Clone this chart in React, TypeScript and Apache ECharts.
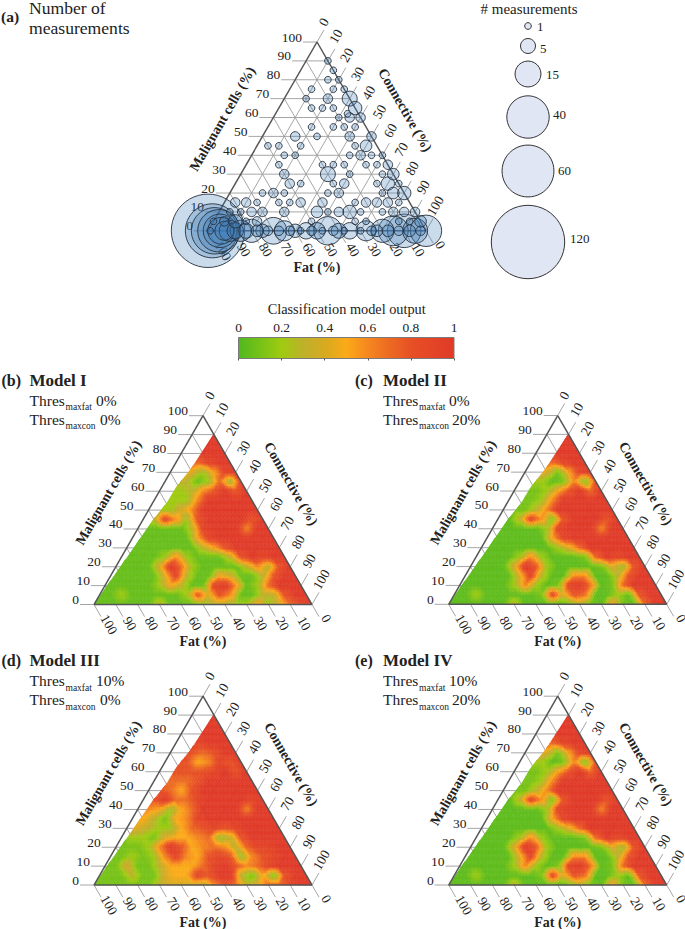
import React, { useEffect, useRef } from "react";
import * as echarts from "echarts";

const axisTicks = [0, 10, 20, 30, 40, 50, 60, 70, 80, 90, 100];
const colorTicks = [0, 0.2, 0.4, 0.6, 0.8, 1];
const colorStops: [number, string][] = [
  [0, "#4fb81f"], [0.2, "#9fcb10"], [0.3, "#bdb12a"], [0.4, "#d7aa20"], [0.5, "#fbaa18"],
  [0.6, "#f6871f"], [0.7, "#ec6a22"], [0.8, "#e75025"], [1, "#e03a28"],
];
const legendCounts = [1, 5, 15, 40, 60, 120];

// [malignant %, [[connective %, number of measurements], ...]]
const bubbleRows: [number, [number, number][]][] = [
  [90, [[10, 1]]],
  [85, [[15, 1]]],
  [80, [[15, 1], [20, 1]]],
  [75, [[10, 1], [20, 1], [25, 1]]],
  [70, [[10, 1], [20, 2], [30, 5]]],
  [65, [[15, 1], [20, 1], [25, 1], [35, 4]]],
  [62, [[33, 1]]],
  [60, [[30, 1], [35, 2], [40, 2]]],
  [55, [[20, 1], [30, 1], [35, 1], [40, 1]]],
  [50, [[15, 2], [25, 1], [40, 2], [50, 2]]],
  [45, [[5, 1], [10, 1], [20, 1], [45, 1], [50, 3]]],
  [40, [[15, 1], [20, 1], [45, 1], [50, 2], [55, 1], [60, 1]]],
  [35, [[15, 1], [35, 1], [40, 1], [45, 1], [55, 1], [60, 1], [65, 2]]],
  [30, [[20, 2], [40, 5], [50, 1], [65, 1], [70, 3]]],
  [25, [[25, 2], [30, 1], [45, 1], [50, 2], [65, 1], [70, 4], [75, 1]]],
  [20, [[15, 1], [20, 2], [25, 1], [45, 1], [50, 2], [70, 1], [75, 3], [80, 4]]],
  [15, [[5, 2], [10, 2], [15, 1], [25, 1], [30, 1], [35, 2], [45, 2], [60, 1], [65, 2], [70, 2], [75, 2], [80, 1]]],
  [10, [[5, 1], [10, 1], [15, 2], [20, 2], [30, 2], [45, 3], [50, 1], [55, 2], [60, 4], [65, 1], [75, 1], [80, 2], [85, 2], [90, 2]]],
  [5, [[0, 1], [5, 2], [10, 4], [15, 1], [20, 2], [45, 1], [65, 1], [70, 1], [85, 1], [90, 1], [95, 3]]],
  [0, [[0, 120], [1, 1], [2, 65], [3, 48], [5, 40], [5.5, 25], [6, 16], [7.5, 8], [10, 10], [12.5, 6], [15, 10], [17.5, 5], [20, 12], [22.5, 3], [25, 4], [27.5, 2], [30, 16], [32.5, 2], [35, 9], [37.5, 2], [40, 4], [42.5, 1], [45, 6], [47.5, 2], [50, 6], [52.5, 1], [55, 18], [57.5, 2], [60, 5], [62.5, 1], [65, 6], [70, 1], [72.5, 9], [75, 2], [77.5, 3], [80, 12], [82.5, 3], [85, 20], [87.5, 2], [90, 25], [92.5, 3], [95, 14], [97.5, 2], [100, 22]]],
];

// Classification output in tenths. Rows: malignant 0, 5, ... 90 %. Columns: connective 0, 5, ... %.
const modelI: number[][] = [
  [.6, .6, .6, .6, .6, .6, 3, .6, .6, .6, 2, 3, 3, 2, 2, 5, 2, 4, 7, 9, 10],
  [.6, .6, 2, .6, .6, .6, .6, .6, 2, 8, 4, 8, 6, .6, .6, 3, 3, 8, 10, 10],
  [.6, .6, .6, .6, .6, 2, 5, 3, .6, .6, 9, 10, 6, .6, 2, 7, 10, 10, 10],
  [.6, .6, .6, .6, .6, 4, 9, 3, .6, .6, 5, 4, .6, .6, 3, 8, 10, 10],
  [.6, .6, .6, .6, 4, 10, 7, 2, .6, .6, .6, .6, 3, 6, 3, 8, 10],
  [.6, .6, .6, .6, 2, 6, 2, .6, .6, .6, 3, 8, 10, 9, 10, 10],
  [.6, .6, .6, .6, .6, .6, .6, 3, 5, 8, 10, 10, 10, 10, 10],
  [.6, .6, .6, .6, .6, .6, 5, 9, 10, 10, 10, 10, 10, 10],
  [.6, .6, .6, .6, .6, 3, 9, 10, 10, 10, 6, 10, 10],
  [.6, 3, 9, 6, 2, 8, 10, 10, 10, 10, 8, 10],
  [.6, 2, 2, 4, 6, 10, 10, 10, 10, 10, 10],
  [2, 2, 2, 2, 6, 10, 10, 10, 10, 10],
  [2, 2, 2, 3, 6, 8, 10, 8, 10],
  [3, 3, 3, .6, 2, 7, 2, 9],
  [5, 5, 4, 2, 5, 9, 10],
  [8, 8, 7, 9, 10, 10],
  [10, 10, 10, 10, 10],
  [10, 10, 10, 10],
  [10, 10, 10],
];
const modelII: number[][] = [
  [.4, .4, .4, .4, .4, .4, 3, .4, .4, .4, .4, 1, 3, 1, .4, 5, 1, .4, 7, 10, 10],
  [.4, .4, 2, .4, .4, .4, .4, .4, 1, 9, 4, 8, 7, .4, .4, 2, .4, 8, 10, 10],
  [.4, .4, .4, .4, .4, 2, 6, 2, .4, 1, 9, 10, 7, .4, 1, 7, 10, 10, 10],
  [.4, .4, .4, .4, .4, 4, 9, 3, .4, .4, 6, 6, .4, .4, 3, 8, 10, 10],
  [.4, .4, .4, .4, 4, 10, 8, 2, .4, .4, .4, .4, 1, 4, 2, 8, 10],
  [.4, .4, .4, .4, 2, 6, 2, .4, .4, .4, 1, 7, 10, 9, 10, 10],
  [.4, .4, .4, .4, .4, .4, .4, 2, 4, 7, 10, 10, 10, 10, 10],
  [.4, .4, .4, .4, .4, .4, 5, 9, 10, 10, 10, 10, 10, 10],
  [.4, .4, .4, .4, .4, 2, 9, 10, 10, 10, 6, 10, 10],
  [.4, .4, 3, 9, 6, 1, 8, 10, 10, 10, 8, 10],
  [.4, 1, 1, 3, 6, 10, 10, 10, 10, 10, 10],
  [2, 1, 1, 2, 6, 10, 10, 10, 10, 10],
  [2, 1, 1, 2, 5, 8, 10, 7, 10],
  [3, 2, 2, .4, 1, 6, 1, 8],
  [5, 5, 4, 1, 5, 9, 10],
  [8, 8, 7, 9, 10, 10],
  [10, 10, 10, 10, 10],
  [10, 10, 10, 10],
  [10, 10, 10],
];
const modelIII: number[][] = [
  [1, 1, 1, 1, 1, 1, 3, 4, 4, 4, 3, 6, 8, 7, 3, 4, 7, 7, 9, 10, 10],
  [1, 1, 1, 3, 1, 1, 4, 5, 5, 9, 8, 10, 10, 3, 1, 5, 1, 8, 10, 10],
  [1, 1, 4, 1, 1, 3, 5, 5, 5, 7, 9, 10, 8, 6, 7, 9, 10, 10, 10],
  [1, 1, 2, 1, 2, 6, 9, 6, 5, 8, 9, 8, 2, 6, 8, 9, 10, 10],
  [1, 1, 1, 2, 6, 10, 8, 5, 6, 7, 6, 3, 7, 9, 9, 10, 10],
  [1, 2, 2, 1, 4, 5, 5, 6, 7, 2, 3, 8, 10, 10, 10, 10],
  [5, 4, 3, 2, 2, 5, 7, 8, 9, 8, 9, 10, 10, 10, 10],
  [5, 5, 3, 1, 5, 6, 9, 10, 10, 10, 10, 10, 10, 10],
  [6, 6, 5, 2, 5, 7, 10, 10, 10, 10, 6, 10, 10],
  [6, 8, 10, 7, 7, 9, 10, 10, 10, 10, 9, 10],
  [7, 8, 7, 5, 8, 10, 10, 10, 10, 10, 10],
  [8, 7, 7, 7, 8, 10, 10, 10, 10, 10],
  [8, 8, 8, 8, 8, 9, 10, 8, 10],
  [8, 8, 8, 5, 6, 9, 8, 10],
  [9, 9, 8, 7, 8, 10, 10],
  [9, 9, 9, 10, 10, 10],
  [10, 10, 10, 10, 10],
  [10, 10, 10, 10],
  [10, 10, 10],
];
const modelIV = modelII;

// Edge of the measured area: the lowest connective % per malignant %.
const hullMalignant = [0, 27, 45, 54, 62, 72, 89.5];
const hullConnective = [0, 3, 4.8, 6.6, 6.7, 8.7, 9.8];

type Panel = { left: number; top: number; heat?: number[][] };
const panels: Panel[] = [
  { left: 208, top: 42 },
  { left: 94, top: 415.7, heat: modelI },
  { left: 448.7, top: 415.5, heat: modelII },
  { left: 94, top: 696.2, heat: modelIII },
  { left: 448.7, top: 696.2, heat: modelIV },
];
const W = 218;
const H = 188.8;
const SUBDIV = 4;

const SERIF = '"Liberation Serif", "Times New Roman", serif';
const TXT = "#222";
const GRID = "#9c9c9c";
const EDGE = "#555";
const toXY = (m: number, c: number): [number, number] => [c + m / 2, m];

function hex(c: string) {
  return [1, 3, 5].map((i) => parseInt(c.slice(i, i + 2), 16));
}
function colorAt(v: number) {
  const t = Math.max(0, Math.min(1, v));
  for (let i = 1; i < colorStops.length; i++) {
    if (t <= colorStops[i][0]) {
      const [a, ca] = colorStops[i - 1];
      const [b, cb] = colorStops[i];
      const f = (t - a) / (b - a);
      const A = hex(ca);
      const B = hex(cb);
      return `rgb(${A.map((x, j) => Math.round(x + (B[j] - x) * f)).join(",")})`;
    }
  }
  return colorStops[colorStops.length - 1][1];
}
function hullAt(m: number) {
  const top = hullMalignant[hullMalignant.length - 1];
  const mm = Math.min(m, top);
  for (let i = 1; i < hullMalignant.length; i++) {
    if (mm <= hullMalignant[i]) {
      const f = (mm - hullMalignant[i - 1]) / (hullMalignant[i] - hullMalignant[i - 1]);
      return hullConnective[i - 1] + f * (hullConnective[i] - hullConnective[i - 1]);
    }
  }
  return hullConnective[hullConnective.length - 1];
}

type Node = [number, number, number];
function heatCells(rows: number[][]): Node[][] {
  const cells: Node[][] = [];
  const node = (r: number, k: number): Node => [r * 5, k * 5, rows[r][k] / 10];
  for (let r = 0; r < rows.length - 1; r++) {
    for (let k = 0; k < rows[r].length - 1; k++) {
      if (k < rows[r + 1].length) cells.push([node(r, k), node(r, k + 1), node(r + 1, k)]);
      if (k + 1 < rows[r + 1].length) cells.push([node(r, k + 1), node(r + 1, k), node(r + 1, k + 1)]);
    }
  }
  return cells;
}
function blend(t: Node[], a: number, b: number): Node {
  const c = 1 - a - b;
  return [0, 1, 2].map((i) => t[0][i] * a + t[1][i] * b + t[2][i] * c) as Node;
}

function textEl(text: string, x: number, y: number, rotation = 0, font = `13px ${SERIF}`, align = "center") {
  return {
    type: "text",
    x,
    y,
    rotation,
    silent: true,
    style: { text, x: 0, y: 0, fill: TXT, font, align, verticalAlign: "middle" },
  };
}
function lineEl(a: number[], b: number[], stroke: string, lineWidth: number) {
  return {
    type: "line",
    silent: true,
    shape: { x1: a[0], y1: a[1], x2: b[0], y2: b[1] },
    style: { stroke, lineWidth },
  };
}

function buildSeries() {
  const series: any[] = [];
  panels.forEach((p, i) => {
    const axes = { coordinateSystem: "cartesian2d", xAxisIndex: i, yAxisIndex: i, silent: true, clip: false };
    // grid lines and tick marks with labels
    series.push({
      ...axes,
      type: "custom",
      z: 1,
      data: axisTicks.map((t) => [t, 0]),
      renderItem: (_: any, api: any) => {
        const t = axisTicks[_.dataIndex];
        const kids: any[] = [];
        const pt = (m: number, c: number) => api.coord(toXY(m, c));
        const q = 100 - t;
        // malignant t
        const l = pt(t, 0);
        kids.push(lineEl([l[0] - 14, l[1]], l, GRID, 0.9));
        if (t > 0 && t < 100) kids.push(lineEl(l, pt(t, q), GRID, 0.9));
        kids.push(textEl(String(t), l[0] - 15, l[1] - 5, 0, `13.5px ${SERIF}`, "right"));
        // connective t
        const r = pt(q, t);
        kids.push(lineEl(r, [r[0] + 7, r[1] - 12.1], GRID, 0.9));
        if (t > 0 && t < 100) kids.push(lineEl(r, pt(0, t), GRID, 0.9));
        const d1 = String(t).length;
        const ro = d1 === 1 ? [6.7, -20] : d1 === 2 ? [8, -24.7] : [9.3, -25];
        kids.push(textEl(String(t), r[0] + ro[0], r[1] + ro[1], Math.PI / 3, `13.5px ${SERIF}`));
        // fat t
        const b = pt(0, q);
        kids.push(lineEl(b, [b[0] + 7, b[1] + 12.1], GRID, 0.9));
        if (t > 0 && t < 100) kids.push(lineEl(b, pt(q, 0), GRID, 0.9));
        const bo = t === 0 ? [14.3, 14] : t === 100 ? [15, 20] : [14, 19];
        kids.push(textEl(String(t), b[0] + bo[0], b[1] + bo[1], -Math.PI / 3, `13.5px ${SERIF}`));
        return { type: "group", children: kids };
      },
    });
    // heat surface
    if (p.heat) {
      const cells = heatCells(p.heat);
      const topM = hullMalignant[hullMalignant.length - 1];
      series.push({
        ...axes,
        type: "custom",
        z: 2,
        data: cells.map((_, j) => [j, 0]),
        renderItem: (_: any, api: any) => {
          const cell = cells[_.dataIndex];
          const kids: any[] = [];
          const add = (tri: Node[]) => {
            const mM = (tri[0][0] + tri[1][0] + tri[2][0]) / 3;
            if (mM > topM) return;
            if (tri.every((n) => n[1] < hullAt(n[0]))) return;
            const v = (tri[0][2] + tri[1][2] + tri[2][2]) / 3;
            const fill = colorAt(v);
            kids.push({
              type: "polygon",
              silent: true,
              shape: { points: tri.map((n) => api.coord(toXY(n[0], Math.max(n[1], hullAt(n[0]))))) },
              style: { fill, stroke: fill, lineWidth: 0.5 },
            });
          };
          const n = SUBDIV;
          const at = (a: number, b: number) => blend(cell, a / n, b / n);
          for (let a = 0; a < n; a++) {
            for (let b = 0; b < n - a; b++) {
              add([at(a, b), at(a + 1, b), at(a, b + 1)]);
              if (a + b < n - 1) add([at(a + 1, b), at(a, b + 1), at(a + 1, b + 1)]);
            }
          }
          return { type: "group", children: kids };
        },
      });
    }
    // triangle outline and axis titles
    series.push({
      ...axes,
      type: "custom",
      z: 3,
      data: [[0, 0]],
      renderItem: (_: any, api: any) => {
        const a = api.coord(toXY(100, 0));
        const l = api.coord(toXY(0, 0));
        const r = api.coord(toXY(0, 100));
        const bold = `bold 14px ${SERIF}`;
        return {
          type: "group",
          children: [
            lineEl(l, a, EDGE, 1.5),
            lineEl(a, r, EDGE, 1.5),
            lineEl(l, r, EDGE, 1.5),
            textEl("Malignant cells (%)", a[0] - 94.5, a[1] + 77, Math.PI / 3, bold),
            textEl("Connective (%)", a[0] + 88, a[1] + 68, -Math.PI / 3, bold),
            textEl("Fat (%)", a[0], l[1] + 37, 0, bold),
          ],
        };
      },
    });
  });
  // bubbles of panel (a)
  const bubbles = bubbleRows
    .flatMap(([m, items]) => items.map(([c, n]) => [...toXY(m, c), n]))
    .sort((a, b) => b[2] - a[2]);
  series.push({
    type: "scatter",
    xAxisIndex: 0,
    yAxisIndex: 0,
    z: 4,
    silent: true,
    clip: false,
    data: bubbles,
    symbolSize: (v: number[]) => 6.7 * Math.sqrt(v[2]),
    itemStyle: { color: "rgba(58,122,182,0.27)", borderColor: "#27303c", borderWidth: 0.9, opacity: 1 },
  });
  // colour bar
  series.push({
    type: "custom",
    coordinateSystem: "cartesian2d",
    xAxisIndex: 5,
    yAxisIndex: 5,
    z: 1,
    silent: true,
    data: [[0, 0]],
    renderItem: (_: any, api: any) => {
      const a = api.coord([0, 1]);
      const b = api.coord([1, 0]);
      return {
        type: "rect",
        shape: { x: a[0], y: a[1], width: b[0] - a[0], height: b[1] - a[1] },
        style: {
          stroke: "#7a7a7a",
          lineWidth: 1,
          fill: new echarts.graphic.LinearGradient(0, 0, 1, 0, colorStops.map(([offset, color]) => ({ offset, color }))),
        },
      };
    },
  });
  return series;
}

function gt(text: string, x: number, y: number, font: string, align = "left") {
  return {
    type: "text",
    x,
    y,
    silent: true,
    style: { text, x: 0, y: 0, fill: TXT, font, align, verticalAlign: "middle" },
  };
}
function heading(tag: string, model: string, sub1: string, sub2: string, x: number, y: number, v1: string, v2: string, v1x: number, v2x: number) {
  const thr = `15.5px ${SERIF}`;
  const sub = `9.5px ${SERIF}`;
  return [
    gt(tag, x - 28, y, `bold 16px ${SERIF}`),
    gt(model, x, y, `bold 17px ${SERIF}`),
    gt("Thres", x, y + 20, thr),
    gt(sub1, x + 36, y + 27, sub),
    gt(v1, v1x, y + 20, thr),
    gt("Thres", x, y + 39, thr),
    gt(sub2, x + 36, y + 46, sub),
    gt(v2, v2x, y + 39, thr),
  ];
}

function buildGraphic() {
  const els: any[] = [
    gt("(a)", 1, 16, `bold 15.5px ${SERIF}`),
    gt("Number of", 29, 8, `17.6px ${SERIF}`),
    gt("measurements", 29, 28, `17.6px ${SERIF}`),
    gt("# measurements", 529, 9, `15px ${SERIF}`, "center"),
    gt("Classification model output", 346.7, 309, `14.3px ${SERIF}`, "center"),
    ...heading("(b)", "Model I", "maxfat", "maxcon", 29.5, 380, "0%", "0%", 96, 100),
    ...heading("(c)", "Model II", "maxfat", "maxcon", 383, 380, "0%", "20%", 449, 452),
    ...heading("(d)", "Model III", "maxfat", "maxcon", 29.5, 660.5, "10%", "0%", 96, 100),
    ...heading("(e)", "Model IV", "maxfat", "maxcon", 383, 660.5, "10%", "20%", 449, 452),
  ];
  const cy = [26, 46, 74, 117, 171, 242];
  const lx = [537, 540, 546, 553, 558, 570];
  const ly = [26, 48, 74, 114, 170, 238];
  legendCounts.forEach((n, i) => {
    els.push({
      type: "circle",
      silent: true,
      shape: { cx: 528, cy: cy[i], r: (6.7 * Math.sqrt(n)) / 2 },
      style: { fill: "#e0e6f4", stroke: "#333", lineWidth: 1 },
    });
    els.push(gt(String(n), lx[i], ly[i], `13px ${SERIF}`));
  });
  return els;
}

export default function App() {
  const ref = useRef<HTMLDivElement>(null);
  useEffect(() => {
    document.body.style.margin = "0";
    const chart = echarts.init(ref.current!, undefined, { renderer: "svg" });
    const hidden = { type: "value", min: 0, max: 100, show: false };
    chart.setOption({
      animation: false,
      backgroundColor: "#fff",
      textStyle: { fontFamily: SERIF },
      grid: [
        ...panels.map((p) => ({ left: p.left, top: p.top, width: W, height: H })),
        { left: 238.5, top: 337.5, width: 215.5, height: 21 },
      ],
      xAxis: [
        ...panels.map((_, i) => ({ ...hidden, gridIndex: i })),
        {
          type: "value",
          gridIndex: 5,
          min: colorTicks[0],
          max: colorTicks[colorTicks.length - 1],
          interval: 0.2,
          position: "top",
          axisLine: { show: false },
          splitLine: { show: false },
          axisTick: { show: true, inside: true, length: 2, lineStyle: { color: "#555" } },
          axisLabel: { color: TXT, fontFamily: SERIF, fontSize: 13.5, margin: 3 },
          z: 5,
        },
      ],
      yAxis: [
        ...panels.map((_, i) => ({ ...hidden, gridIndex: i })),
        { type: "value", gridIndex: 5, min: 0, max: 1, show: false },
      ],
      series: buildSeries(),
      graphic: buildGraphic(),
    });
    return () => chart.dispose();
  }, []);
  return <div ref={ref} style={{ position: "absolute", left: 0, top: 0, width: 685, height: 929 }} />;
}
